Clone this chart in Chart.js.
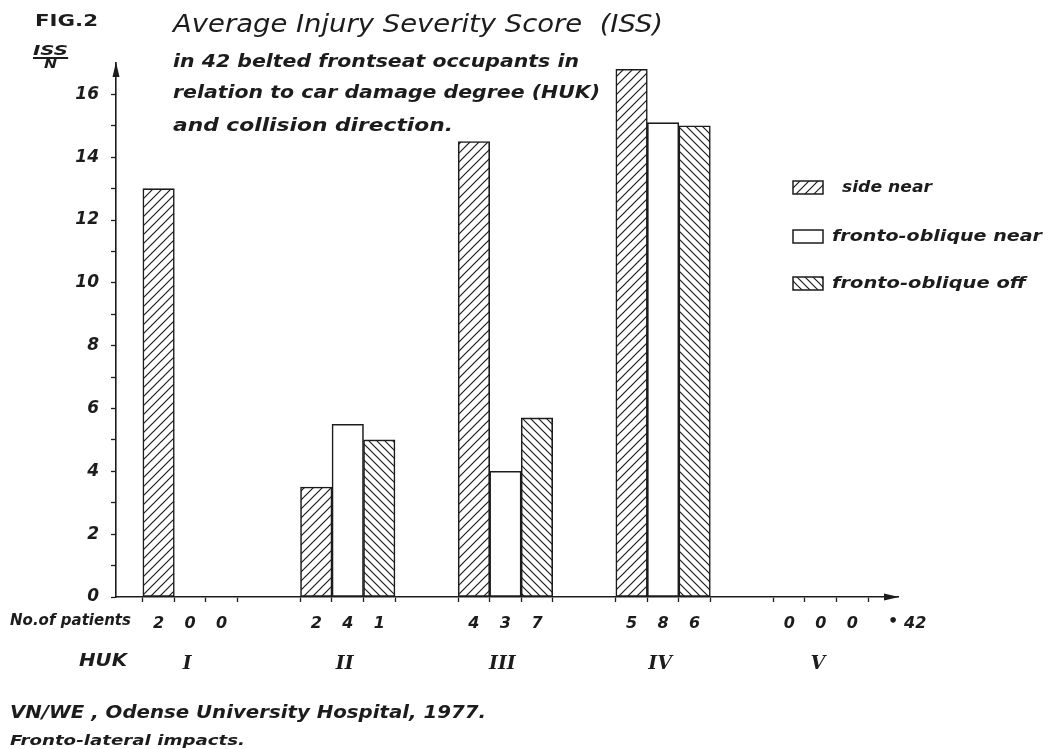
<!DOCTYPE html>
<html>
<head>
<meta charset="utf-8">
<title>Average Injury Severity Score (ISS)</title>
<script src="https://cdn.jsdelivr.net/npm/chart.js@4.4.1/dist/chart.umd.min.js"></script>
<style>
  html, body { margin: 0; padding: 0; background: #fff; }
  #wrap { position: relative; width: 1051px; height: 749px; overflow: hidden; }
  #wrap canvas { position: absolute; left: 0; top: 0; }
  .t {
    position: absolute; white-space: nowrap; color: #1c1c1c;
    font-family: "DejaVu Sans", sans-serif; font-style: italic; font-weight: bold;
    transform-origin: 0 50%;
  }
</style>
</head>
<body>
<div id="wrap">
  <canvas id="chart" width="1051" height="749"></canvas>

  <div class="t" data-w="63" style="left:35px; top:13px; font-size:16px; line-height:16px; font-style:normal;">FIG.2</div>
  <div class="t" data-w="35" style="left:33px; top:43px; font-size:14px; line-height:14px; border-bottom:2px solid #1c1c1c;">ISS</div>
  <div class="t" data-w="13" style="left:44px; top:58px; font-size:12px; line-height:12px;">N</div>

  <div class="t" data-w="490" style="left:173px; top:12px; font-size:24px; line-height:24px; font-weight:normal;">Average Injury Severity Score&nbsp; (ISS)</div>
  <div class="t" data-w="406" style="left:173px; top:53px; font-size:17px; line-height:17px;">in 42 belted frontseat occupants in</div>
  <div class="t" data-w="427" style="left:173px; top:84px; font-size:17px; line-height:17px;">relation to car damage degree (HUK)</div>
  <div class="t" data-w="280" style="left:173px; top:117px; font-size:17px; line-height:17px;">and collision direction.</div>

  <div class="t" data-w="121" style="left:10px; top:613px; font-size:15px; line-height:15px;">No.of patients</div>
  <div class="t" data-w="48" style="left:79px; top:651px; font-size:18px; line-height:18px;">HUK</div>

  <div class="t" data-w="476" style="left:10px; top:704px; font-size:17px; line-height:17px;">VN/WE , Odense University Hospital, 1977.</div>
  <div class="t" data-w="235" style="left:10px; top:733px; font-size:14px; line-height:14px;">Fronto-lateral impacts.</div>
</div>

<script>
const ink = '#1c1c1c';

// HUK groups (car damage degree)
const hukLabels = ['I', 'II', 'III', 'IV', 'V'];
const seriesNames = ['side near', 'fronto-oblique near', 'fronto-oblique off'];

// average ISS per group
const sideNear   = [13.0, 3.5, 14.5, 16.8, null];
const frontoNear = [null, 5.5, 4.0, 15.1, null];
const frontoOff  = [null, 5.0, 5.7, 15.0, null];

// no. of patients per bar
const patientsSideNear   = [2, 2, 4, 5, 0];
const patientsFrontoNear = [0, 4, 3, 8, 0];
const patientsFrontoOff  = [0, 1, 7, 6, 0];
const totalPatients = 42;

// y axis: ISS / N
const yMax = 17;
const yLastTick = 16;

// squeeze each text block to the width it has in the figure
document.querySelectorAll('.t[data-w]').forEach(el => {
  const w = el.getBoundingClientRect().width;
  el.style.transform = 'scaleX(' + (el.dataset.w / w) + ')';
});

function hatch(dir, step) {
  const c = document.createElement('canvas');
  c.width = step; c.height = step;
  const g = c.getContext('2d');
  g.fillStyle = '#fff';
  g.fillRect(0, 0, step, step);
  g.strokeStyle = ink;
  g.lineWidth = 1.2;
  g.beginPath();
  if (dir > 0) { // "/"
    g.moveTo(-1, step + 1); g.lineTo(step + 1, -1);
    g.moveTo(-1, 1); g.lineTo(1, -1);
    g.moveTo(step - 1, step + 1); g.lineTo(step + 1, step - 1);
  } else {       // "\"
    g.moveTo(-1, -1); g.lineTo(step + 1, step + 1);
    g.moveTo(step - 1, -1); g.lineTo(step + 1, 1);
    g.moveTo(-1, step - 1); g.lineTo(1, step + 1);
  }
  g.stroke();
  return g.createPattern(c, 'repeat');
}

const fills = [hatch(1, 9), '#ffffff', hatch(-1, 8)];
const patients = [patientsSideNear, patientsFrontoNear, patientsFrontoOff];
const values = [sideNear, frontoNear, frontoOff];

const toPoints = arr => arr.map((v, i) => ({ x: i, y: v }));

function fitText(ctx, text, x, y, width) {
  const w = ctx.measureText(text).width;
  ctx.save();
  ctx.translate(x, y);
  ctx.scale(width / w, 1);
  ctx.fillText(text, 0, 0);
  ctx.restore();
}

const extras = {
  id: 'extras',
  afterDraw(chart) {
    const { ctx, chartArea: a, scales: { x } } = chart;
    ctx.save();
    ctx.fillStyle = ink;
    ctx.strokeStyle = ink;

    // arrow heads on both axes
    ctx.beginPath();
    ctx.moveTo(a.left, a.top - 1);
    ctx.lineTo(a.left - 3.5, a.top + 14);
    ctx.lineTo(a.left + 3.5, a.top + 14);
    ctx.closePath();
    ctx.fill();
    ctx.beginPath();
    ctx.moveTo(a.right + 1, a.bottom);
    ctx.lineTo(a.right - 14, a.bottom - 3.5);
    ctx.lineTo(a.right - 14, a.bottom + 3.5);
    ctx.closePath();
    ctx.fill();

    // no. of patients under each bar, HUK numeral under each group
    ctx.textAlign = 'center';
    ctx.textBaseline = 'middle';
    hukLabels.forEach((h, k) => {
      ctx.font = 'italic bold 16px "DejaVu Sans"';
      for (let s = 0; s < 3; s++) {
        ctx.fillText(String(patients[s][k]), x.getPixelForValue(k + (s - 1) * 0.2), a.bottom + 27);
      }
      ctx.font = 'italic bold 19px "DejaVu Serif"';
      ctx.fillText(h, x.getPixelForValue(k) - 3, a.bottom + 67);
    });
    ctx.font = 'italic bold 16px "DejaVu Sans"';
    ctx.fillText('\u2022', a.right - 5, a.bottom + 25);
    ctx.textAlign = 'left';
    ctx.fillText(String(totalPatients), a.right + 6, a.bottom + 27);

    // legend
    const rows = [{ y: 181, tx: 842, tw: 90 }, { y: 230, tx: 832, tw: 210 }, { y: 277, tx: 832, tw: 194 }];
    ctx.font = 'italic bold 16px "DejaVu Sans"';
    ctx.lineWidth = 1.5;
    rows.forEach((r, s) => {
      ctx.fillStyle = fills[s];
      ctx.fillRect(793, r.y, 30, 13);
      ctx.strokeRect(793, r.y, 30, 13);
      ctx.fillStyle = ink;
      fitText(ctx, seriesNames[s], r.tx, r.y + 7, r.tw);
    });
    ctx.restore();
  }
};

const axisGrid = {
  display: true,
  offset: false,
  drawOnChartArea: false,
  drawTicks: true,
  tickLength: 5,
  tickColor: ink,
  tickWidth: 1.3,
  color: ink
};

new Chart(document.getElementById('chart').getContext('2d'), {
  type: 'bar',
  data: {
    datasets: values.map((v, s) => ({
      label: seriesNames[s],
      data: toPoints(v),
      backgroundColor: fills[s],
      borderColor: ink,
      borderWidth: 1.6,
      borderSkipped: false,
      barThickness: 31.5
    }))
  },
  options: {
    responsive: false,
    animation: false,
    devicePixelRatio: 1,
    layout: { padding: { left: 0, top: 63, right: 1051 - 898, bottom: 749 - 597 - 10 } },
    scales: {
      x: {
        type: 'linear',
        offset: false,
        bounds: 'data',
        min: -0.47,
        max: 4.49,
        // tick marks at the edges of the three bar slots of every group
        afterBuildTicks: scale => {
          const t = [];
          hukLabels.forEach((h, k) => [-0.3, -0.1, 0.1, 0.3].forEach(o => t.push({ value: k + o })));
          scale.ticks = t;
        },
        afterFit: scale => { scale.height = 10; },
        ticks: { display: false },
        grid: axisGrid,
        border: { display: true, color: ink, width: 1.6 }
      },
      y: {
        min: 0,
        max: yMax,
        afterBuildTicks: scale => {
          scale.ticks = scale.ticks.filter(t => t.value <= yLastTick);
        },
        afterFit: scale => { scale.width = 116; },
        ticks: {
          stepSize: 1,
          includeBounds: false,
          autoSkip: false,
          padding: 12,
          color: ink,
          font: { family: '"DejaVu Sans"', size: 17, style: 'italic', weight: 'bold' },
          callback: v => (v % 2 === 0 ? v : '')
        },
        grid: axisGrid,
        border: { display: true, color: ink, width: 1.6 }
      }
    },
    plugins: {
      legend: { display: false },
      tooltip: { enabled: false }
    }
  },
  plugins: [extras]
});
</script>
</body>
</html>
